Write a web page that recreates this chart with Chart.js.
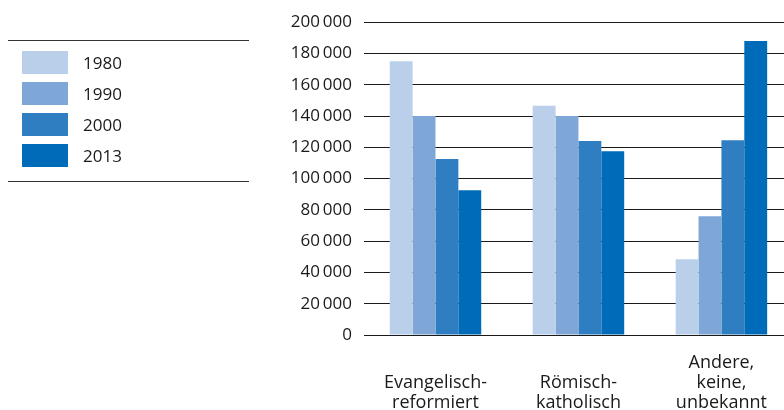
<!DOCTYPE html>
<html>
<head>
<meta charset="utf-8">
<script src="https://cdn.jsdelivr.net/npm/chart.js@4/dist/chart.umd.min.js"></script>
<style>
  html, body { margin: 0; padding: 0; background: #fff; overflow: hidden; width: 784px; height: 410px; }
  #wrap { position: absolute; left: 0; top: 0; width: 795px; height: 410px; }
  #legend { position: absolute; left: 8px; top: 40px; width: 241px; height: 140px;
            border-top: 1px solid #333; border-bottom: 1px solid #333; font-family: "Open Sans", sans-serif; font-size: 17px; color: #1a1a1a; }
  .item { position: absolute; left: 14px; height: 23px; }
  .box { position: absolute; left: 0; top: 0; width: 46px; height: 23px; }
  .lbl { position: absolute; left: 61px; top: 0; line-height: 23px; white-space: nowrap; }
</style>
</head>
<body>
<div id="wrap"><canvas id="c"></canvas></div>
<div id="legend"></div>
<script>
const categories = [["Evangelisch-", "reformiert"], ["Römisch-", "katholisch"], ["Andere,", "keine,", "unbekannt"]];
const years = ["1980", "1990", "2000", "2013"];
const v1980 = [175000, 146500, 48500];
const v1990 = [140000, 140000, 76000];
const v2000 = [112500, 124000, 124500];
const v2013 = [92500, 117500, 188000];
const yTicks = [0, 20000, 40000, 60000, 80000, 100000, 120000, 140000, 160000, 180000, 200000];
const colors = ["#BAD0EA", "#7EA7D8", "#2E7EC1", "#006BB8"];

const seriesValues = [v1980, v1990, v2000, v2013];
const datasets = years.map((y, i) => ({
  label: y,
  data: seriesValues[i],
  backgroundColor: colors[i],
  borderWidth: 0,
  barPercentage: 1.0,
  categoryPercentage: 0.64
}));

// HTML legend built from the datasets
const legend = document.getElementById('legend');
datasets.forEach((ds, i) => {
  const it = document.createElement('div');
  it.className = 'item';
  it.style.top = (10 + i * 31) + 'px';
  const b = document.createElement('div');
  b.className = 'box';
  b.style.background = ds.backgroundColor;
  const t = document.createElement('div');
  t.className = 'lbl';
  t.textContent = ds.label;
  it.appendChild(b); it.appendChild(t);
  legend.appendChild(it);
});

const fmt = v => String(v).replace(/\B(?=(\d{3})+(?!\d))/g, '\u2009');

new Chart(document.getElementById('c'), {
  type: 'bar',
  data: { labels: categories, datasets: datasets },
  options: {
    responsive: true,
    maintainAspectRatio: false,
    animation: false,
    layout: { padding: { left: 0, right: 0, top: 21, bottom: 0 } },
    plugins: { legend: { display: false }, tooltip: { enabled: false } },
    scales: {
      x: {
        afterFit: s => { s.height = 75; },
        grid: { display: false, drawTicks: false },
        border: { display: false },
        ticks: {
          color: '#1a1a1a',
          font: { family: 'Open Sans', size: 18, lineHeight: '20px' },
          padding: 28,
          maxRotation: 0,
          autoSkip: false,
          crossAlign: 'far'
        }
      },
      y: {
        min: 0,
        max: 200000,
        afterFit: s => { s.width = 364; },
        afterBuildTicks: s => { s.ticks = yTicks.map(v => ({ value: v })); },
        grid: { color: '#1a1a1a', lineWidth: 1, drawTicks: false },
        border: { display: false },
        ticks: {
          color: '#1a1a1a',
          font: { family: 'Open Sans', size: 17 },
          padding: 12,
          callback: v => fmt(v)
        }
      }
    }
  }
});
</script>
</body>
</html>
